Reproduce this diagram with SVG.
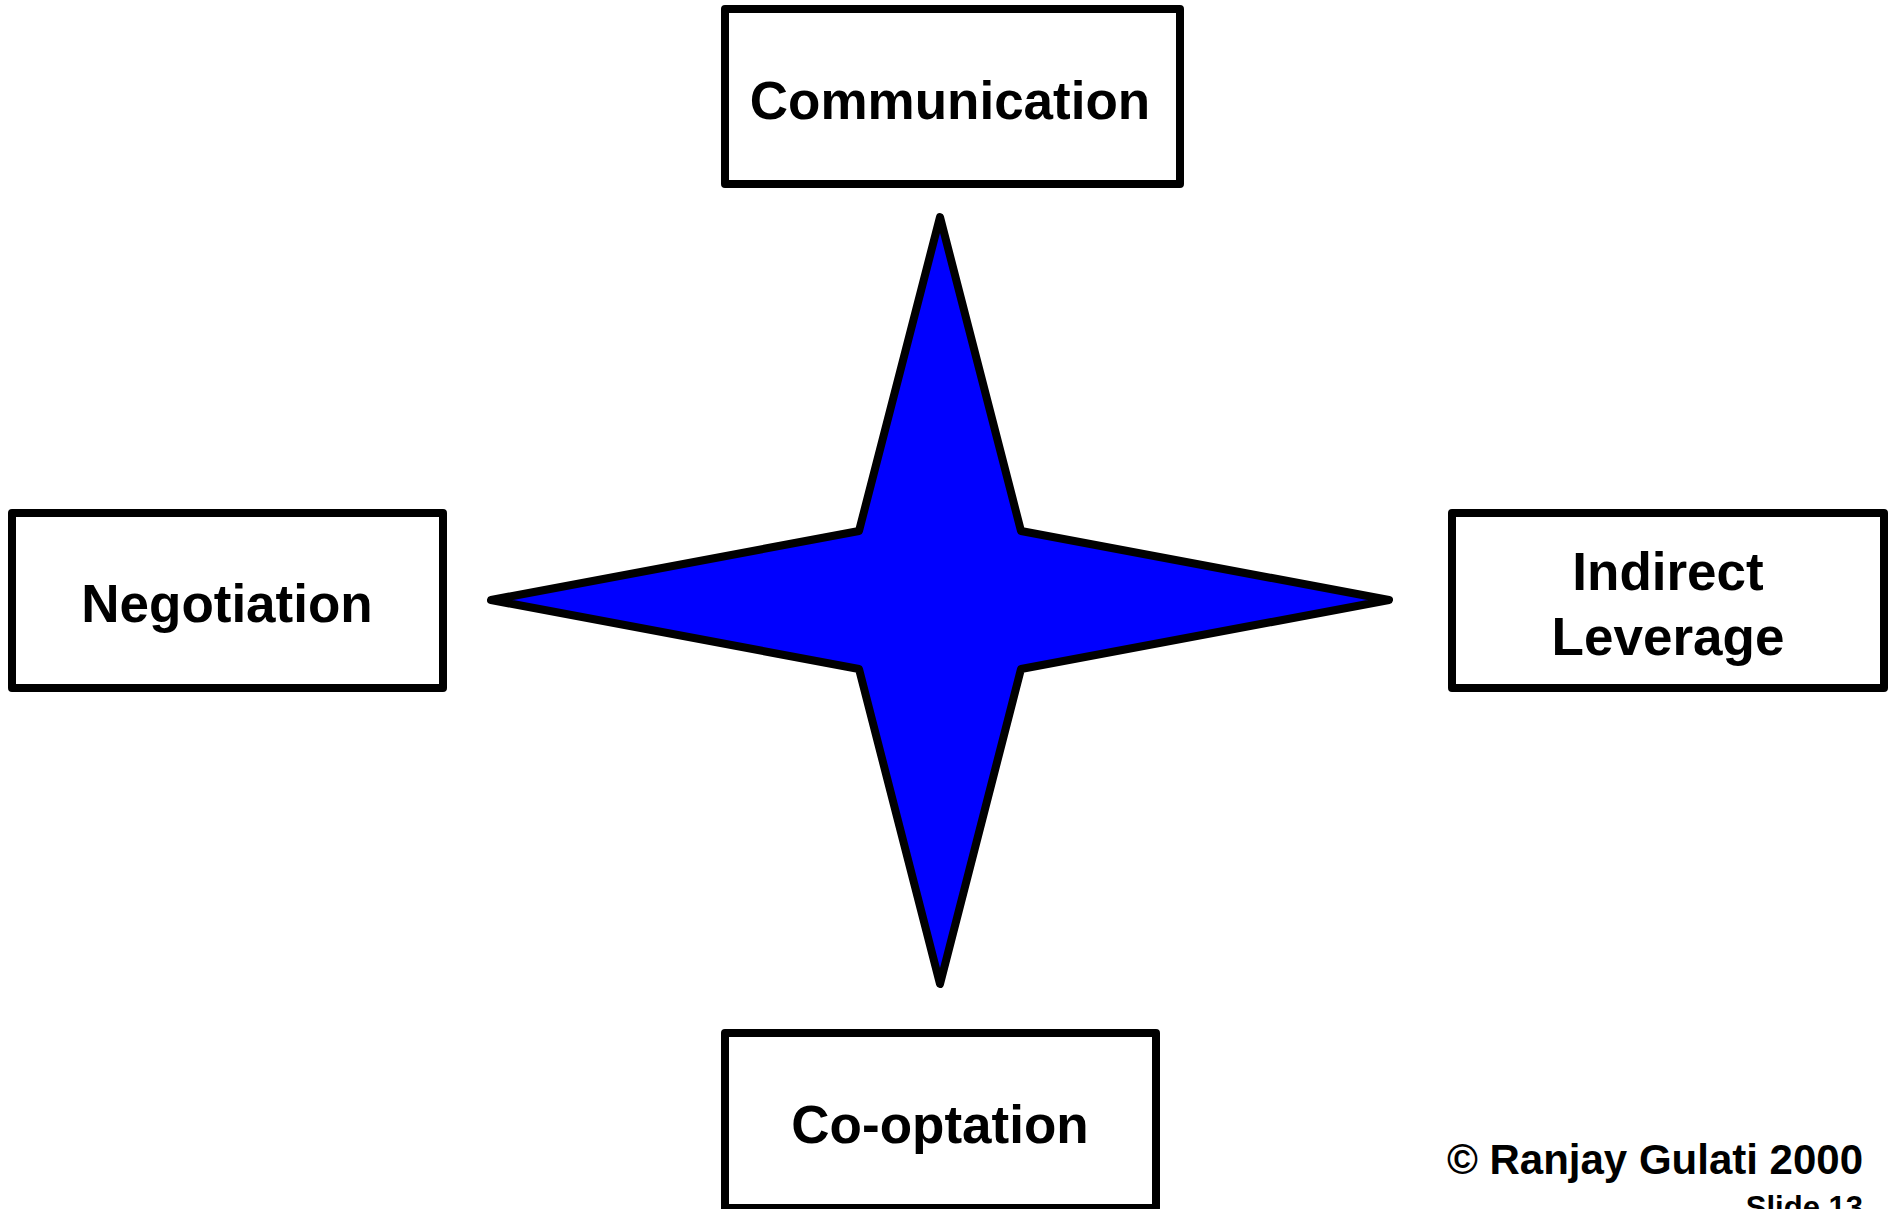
<svg xmlns="http://www.w3.org/2000/svg" width="1894" height="1209" viewBox="0 0 1894 1209">
<style>
.box{fill:#fff;stroke:#000;stroke-width:8;stroke-linejoin:round}
.lbl{font-family:"Liberation Sans",Arial,sans-serif;font-weight:bold;font-size:53px;fill:#000;text-anchor:middle}
.foot{font-family:"Liberation Sans",Arial,sans-serif;font-weight:bold;fill:#000;text-anchor:end}
</style>
<rect width="1894" height="1209" fill="#fff"/>
<g id="connectors"></g>
<g id="star">
<polygon points="940,217 1021,531 1389,600 1021,669 940,984 859,669 491,600 859,531" fill="#0000ff" stroke="#000" stroke-width="8" stroke-linejoin="round"/>
</g>
<g id="communication">
<rect class="box" x="725" y="9" width="455" height="175"/>
<text class="lbl" x="950" y="119">Communication</text>
</g>
<g id="negotiation">
<rect class="box" x="12" y="513" width="431" height="175"/>
<text class="lbl" x="227" y="622">Negotiation</text>
</g>
<g id="indirect-leverage">
<rect class="box" x="1452" y="513" width="432" height="175"/>
<text class="lbl" x="1668" y="590">Indirect</text>
<text class="lbl" x="1668" y="655">Leverage</text>
</g>
<g id="co-optation">
<rect class="box" x="725" y="1033" width="431" height="175"/>
<text class="lbl" x="940" y="1143">Co-optation</text>
</g>
<g id="footer">
<text class="foot" x="1863" y="1174" font-size="42">© Ranjay Gulati 2000</text>
<text class="foot" x="1863" y="1218" font-size="31">Slide 13</text>
</g>
</svg>
